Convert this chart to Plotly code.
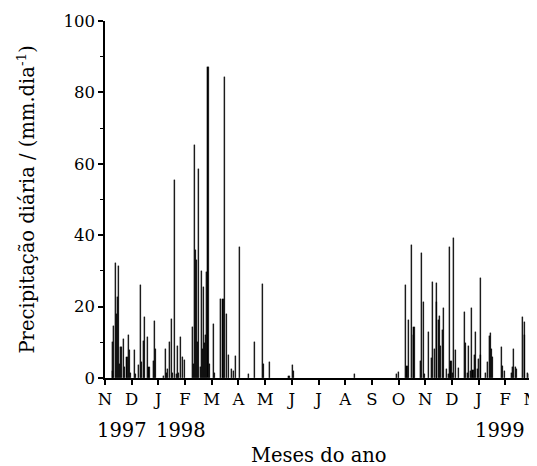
import plotly.graph_objects as go
import numpy as np

# Day index since 1 Nov 1997 and daily precipitation (mm/day)
dia = [8, 9, 10, 12, 13, 14, 15, 16, 18, 19, 21, 22, 25, 27, 28, 29, 33, 35, 38, 40, 41,
       44, 45, 48, 50, 55, 56, 57, 66, 69, 70, 71, 73, 75, 77, 79, 81, 82, 84, 86, 88, 90,
       99, 100, 102, 103, 104, 105, 106, 108, 110, 111, 112, 113, 114, 115, 117, 119, 123, 124,
       131, 134, 136, 138, 140, 144, 146, 148, 153, 163, 170, 179, 180, 187, 209, 213, 214,
       283, 331, 333,
       341, 343, 345, 348, 350, 351, 358, 360, 362, 363, 367, 371, 372, 374, 376, 377, 379,
       380, 381, 383, 384, 388, 390, 391, 392, 393, 395, 396, 398, 402, 408, 409, 412, 413,
       415, 416, 418, 420, 421, 423, 424, 426, 427, 432, 434, 437, 438, 439, 440, 450, 452,
       454, 462, 463, 464, 466, 467, 474, 476, 477, 480, 482]
precipitacao = [2, 10, 14.6, 32.2, 18, 22.6, 31.4, 4, 8.6, 8.6, 10.9, 3, 6, 12, 7.9, 1.3, 7.9, 1, 3.6, 26.1, 4.5,
                10.5, 17.2, 11.6, 3, 4.7, 16, 8, 0.5, 8.2, 1.5, 2.5, 10, 16.5, 1.5, 55.4, 1, 9, 1.5, 11.4, 6, 5.1,
                14.4, 4, 65.3, 35.8, 33, 10, 58.5, 3, 30, 8, 25.6, 9.7, 12, 29.7, 87.2, 4, 15.1, 1.5,
                22.1, 22.1, 84.4, 17.9, 6.5, 2.5, 2, 6.2, 36.8, 1, 10.2, 26.3, 4, 4.6, 0.5, 3.6, 2,
                1.1, 1.1, 1.8,
                26.1, 3.5, 16.3, 37.3, 12.1, 14.2, 4.7, 35, 21.2, 1, 12.8, 5.6, 27, 8, 26.5, 21.2, 16.2,
                17.4, 9, 13.5, 19.5, 2.5, 1, 36.8, 3, 4.7, 1.5, 39.2, 7.8, 2.8, 18.5, 9.9, 1.5, 8.9,
                2, 19.7, 2.3, 6.4, 12.9, 2.5, 5.2, 6.4, 27.9, 1.5, 4.5, 11.8, 12.6, 8, 6, 8.6, 3.5,
                2, 1.5, 3, 8.1, 3, 2.5, 17, 15.6, 12.1, 1.5, 1]

meses = ["N", "D", "J", "F", "M", "A", "M", "J", "J", "A", "S", "O", "N", "D", "J", "F", "M"]
total_dias = 485
anos = ["1997", "1998", "1999"]
ano_mes_idx = [0, 2, 14]
ano_shift = [-10, -4, -6]
y_ticks = [0, 20, 40, 60, 80, 100]
y_minor = [10, 30, 50, 70, 90]

passo = total_dias / (len(meses) - 1)
tickvals = [round(i * passo, 4) for i in range(len(meses))]

fig = go.Figure()
fig.add_trace(go.Bar(
    x=dia, y=precipitacao, width=1.2,
    marker=dict(color="black", line=dict(color="black", width=0.3)),
    showlegend=False,
))

font_family = "DejaVu Serif"

fig.update_layout(
    width=529, height=458,
    margin=dict(l=97, r=5, t=13, b=88, autoexpand=False),
    plot_bgcolor="white", paper_bgcolor="white",
    bargap=0,
    font=dict(family=font_family, size=16.5, color="black"),
    xaxis=dict(
        range=[0, total_dias + 0.01], tickmode="array", tickvals=tickvals, ticktext=meses,
        showgrid=False, zeroline=False, showline=True, linecolor="black", linewidth=1.5,
        ticks="outside", ticklen=5, tickwidth=1.5, tickcolor="black",
        ticklabeloverflow="allow", automargin=False,
        tickfont=dict(size=16.5, family=font_family),
    ),
    yaxis=dict(
        range=[0, 100], tickmode="array", tickvals=y_ticks,
        showgrid=False, zeroline=False, showline=True, linecolor="black", linewidth=1.5,
        ticks="outside", ticklen=5, tickwidth=1.5, tickcolor="black",
        ticklabeloverflow="allow", automargin=False,
        tickfont=dict(size=16.5, family=font_family),
        minor=dict(tickvals=y_minor, ticks="outside", ticklen=3,
                   tickwidth=1.2, tickcolor="black"),
    ),
)

for ano, idx, sh in zip(anos, ano_mes_idx, ano_shift):
    fig.add_annotation(x=tickvals[idx], xref="x", y=-0.146, yref="paper",
                       text=ano, showarrow=False, xanchor="left", yanchor="middle",
                       xshift=sh, font=dict(size=19.5, family=font_family))

fig.add_annotation(x=0.5, xref="paper", y=-0.216, yref="paper", text="Meses do ano",
                   showarrow=False, xanchor="center", yanchor="middle",
                   font=dict(size=19.5, family=font_family))
fig.add_annotation(x=0, xref="paper", xshift=-80, y=0.5, yref="paper",
                   text="Precipitação diária / (mm.dia<sup>-1</sup>)", textangle=-90,
                   showarrow=False, xanchor="center", yanchor="middle",
                   font=dict(size=19.5, family=font_family))

fig.write_html("out.html")
